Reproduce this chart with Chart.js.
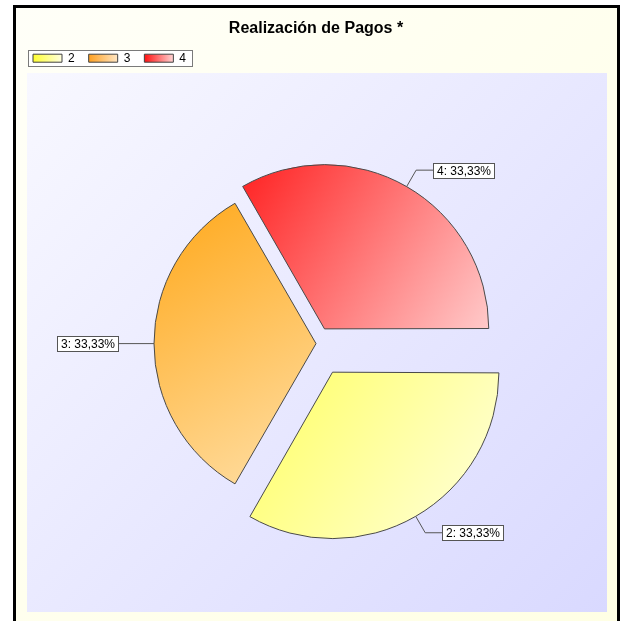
<!DOCTYPE html>
<html>
<head>
<meta charset="utf-8">
<script src="https://cdn.jsdelivr.net/npm/chart.js@4.4.1/dist/chart.umd.min.js"></script>
<style>
  html, body { margin: 0; padding: 0; background: #fff; }
  canvas { display: block; }
</style>
</head>
<body>
<canvas id="chartPagos" width="620" height="621"></canvas>
<script>
"use strict";

// ── Data ──
const CATEGORIES = ["2", "3", "4"];
const VALUES     = [1, 1, 1];

// ── Look ──
const FONT      = "'Liberation Sans', Arial, sans-serif";
const PIE_R     = 162;
const ROTATION  = 90;
const EXPLODE   = [132, 0, 68];   // Chart.js moves a slice by offset / 4
const SLICE_GRAD = [
  ["#FFFF70", "#FFFFE8"],
  ["#FFA81A", "#FFDFA6"],
  ["#FF2222", "#FFC8C8"]
];
const LEGEND_GRAD = [
  ["#FFFF30", "#FFFFE0"],
  ["#FFA020", "#FFE6C4"],
  ["#FF1010", "#FFD4D4"]
];

function sliceBox(chart, i) {
  const a = chart.chartArea;
  const cx = (a.left + a.right) / 2, cy = (a.top + a.bottom) / 2;
  const total = VALUES.reduce((s, v) => s + v, 0);
  let start = -Math.PI / 2 + ROTATION * Math.PI / 180;
  for (let k = 0; k < i; k++) start += VALUES[k] / total * 2 * Math.PI;
  const end = start + VALUES[i] / total * 2 * Math.PI;
  const mid = (start + end) / 2;
  const off = EXPLODE[i] / 4;
  const ox = cx + Math.cos(mid) * off, oy = cy + Math.sin(mid) * off;
  let x0 = ox, y0 = oy, x1 = ox, y1 = oy;
  for (let t = 0; t <= 40; t++) {
    const ang = start + (end - start) * t / 40;
    const px = ox + Math.cos(ang) * PIE_R, py = oy + Math.sin(ang) * PIE_R;
    x0 = Math.min(x0, px); y0 = Math.min(y0, py);
    x1 = Math.max(x1, px); y1 = Math.max(y1, py);
  }
  return { x0, y0, x1, y1 };
}

function sliceFill(ctx) {
  const chart = ctx.chart;
  const i = ctx.dataIndex;
  if (!chart.chartArea || i === undefined) return SLICE_GRAD[i || 0][0];
  const b = sliceBox(chart, i);
  const g = chart.ctx.createLinearGradient(b.x0, b.y0, b.x1, b.y1);
  g.addColorStop(0, SLICE_GRAD[i][0]);
  g.addColorStop(1, SLICE_GRAD[i][1]);
  return g;
}

// ── Backgrounds + legend frame ──
const backdrop = {
  id: "backdrop",
  afterUpdate(chart) {
    const lg = chart.legend;
    if (!lg || !lg.legendItems) return;
    const c = chart.ctx;
    lg.legendItems.forEach((it, i) => {
      const hb = lg.legendHitBoxes[i];
      const g = c.createLinearGradient(hb.left, 0, hb.left + 29, 0);
      g.addColorStop(0, LEGEND_GRAD[i][0]);
      g.addColorStop(1, LEGEND_GRAD[i][1]);
      it.fillStyle = g;
    });
  },
  beforeDraw(chart) {
    const c = chart.ctx;
    c.save();
    c.fillStyle = "#ffffff";
    c.fillRect(0, 0, chart.width, chart.height);
    c.fillStyle = "#000000";
    c.fillRect(13, 5, 607, 616);
    let g = c.createLinearGradient(16, 8, 617, 621);
    g.addColorStop(0, "#FFFFF8");
    g.addColorStop(1, "#FFFFE4");
    c.fillStyle = g;
    c.fillRect(16, 8, 601, 613);
    g = c.createLinearGradient(27, 73, 607, 612);
    g.addColorStop(0, "#F8F8FF");
    g.addColorStop(1, "#D9D9FF");
    c.fillStyle = g;
    c.fillRect(27, 73, 580, 539);

    const lg = chart.legend;
    if (lg && lg.legendHitBoxes && lg.legendHitBoxes.length) {
      const hbs = lg.legendHitBoxes;
      const first = hbs[0], last = hbs[hbs.length - 1];
      const l = first.left - 5, t = first.top - 2;
      const r = last.left + last.width + 6, b = first.top + first.height + 2;
      c.fillStyle = "#ffffff";
      c.fillRect(l, t, r - l, b - t);
      c.strokeStyle = "#7a7a7a";
      c.lineWidth = 1;
      c.strokeRect(Math.round(l) + 0.5, Math.round(t) + 0.5, Math.round(r - l), Math.round(b - t));
    }
    c.restore();
  }
};

// ── Slice labels with leader lines ──
const sliceLabels = {
  id: "sliceLabels",
  afterDatasetsDraw(chart) {
    const c = chart.ctx;
    const meta = chart.getDatasetMeta(0);
    const total = VALUES.reduce((s, v) => s + v, 0);
    c.save();
    c.font = "12px " + FONT;
    c.textBaseline = "middle";
    meta.data.forEach((arc, i) => {
      const p = arc.getProps(["x", "y", "startAngle", "endAngle", "outerRadius", "circumference"], true);
      const off = (arc.options.offset || 0) / 4;
      const fix = 1 - Math.sin(Math.min(Math.PI, p.circumference || 0));
      const r = p.outerRadius + off * fix;
      const mid = (p.startAngle + p.endAngle) / 2;
      const dx = Math.cos(mid), dy = Math.sin(mid);
      const ax = p.x + dx * (off + r), ay = p.y + dy * (off + r);
      const ex = ax + dx * 19, ey = ay + dy * 19;
      const side = dx >= 0 ? 1 : -1;
      const hx = ex + side * 17;
      c.strokeStyle = "#555555";
      c.lineWidth = 1;
      c.beginPath();
      c.moveTo(ax, ay);
      c.lineTo(ex, ey);
      c.lineTo(hx, ey);
      c.stroke();

      const pct = (VALUES[i] / total * 100).toFixed(2).replace(".", ",");
      const txt = CATEGORIES[i] + ": " + pct + "%";
      const w = Math.round(c.measureText(txt).width + 7);
      const h = 15;
      const bx = Math.round(side > 0 ? hx : hx - w);
      const by = Math.round(ey - h / 2);
      c.fillStyle = "#ffffff";
      c.fillRect(bx, by, w, h);
      c.strokeStyle = "#555555";
      c.strokeRect(bx + 0.5, by + 0.5, w, h);
      c.fillStyle = "#000000";
      c.textAlign = "left";
      c.fillText(txt, bx + 4, by + h / 2 + 1);
    });
    c.restore();
  }
};

new Chart(document.getElementById("chartPagos").getContext("2d"), {
  type: "pie",
  data: {
    labels: CATEGORIES,
    datasets: [{
      data: VALUES,
      backgroundColor: sliceFill,
      borderColor: "#4a4a4a",
      borderWidth: 1,
      borderJoinStyle: "miter",
      offset: EXPLODE
    }]
  },
  options: {
    responsive: false,
    animation: false,
    devicePixelRatio: 1,
    rotation: ROTATION,
    radius: PIE_R,
    layout: { padding: { left: 19, right: 7, top: 0, bottom: 8 } },
    plugins: {
      title: {
        display: true,
        text: "Realización de Pagos *",
        color: "#000000",
        font: { family: FONT, size: 16, weight: "bold" },
        padding: { top: 19, bottom: 0 }
      },
      legend: {
        display: true,
        position: "top",
        align: "start",
        labels: {
          color: "#000000",
          font: { family: FONT, size: 12 },
          boxWidth: 29,
          boxHeight: 8,
          padding: 14,
          generateLabels(chart) {
            return CATEGORIES.map((lab, i) => ({
              text: lab,
              fillStyle: LEGEND_GRAD[i][0],
              strokeStyle: "#404040",
              lineWidth: 1,
              hidden: false,
              index: i
            }));
          }
        }
      },
      tooltip: { enabled: false }
    }
  },
  plugins: [backdrop, sliceLabels]
});
</script>
</body>
</html>
